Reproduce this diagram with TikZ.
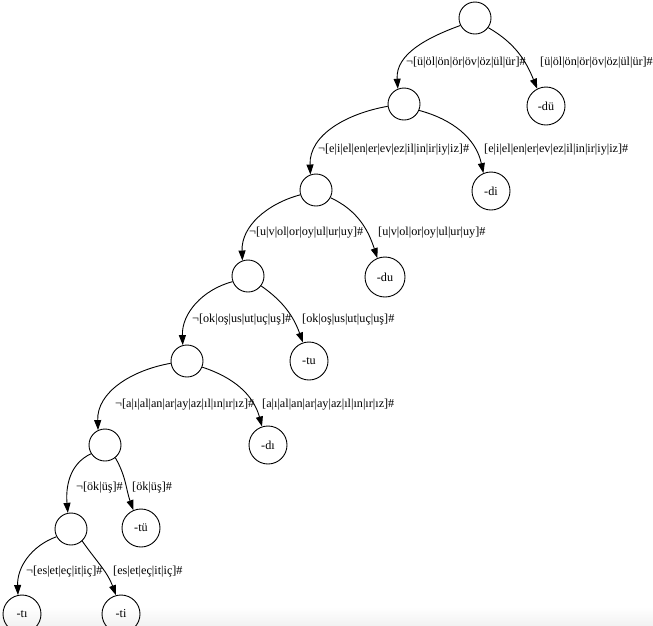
\documentclass[tikz,border=0pt]{standalone}
\usepackage{fontspec}
\setmainfont{Liberation Serif}
\usetikzlibrary{arrows.meta}
\begin{document}
\begin{tikzpicture}[x=1pt,y=-1pt,
  inner/.style={circle,draw,line width=0.9pt,minimum size=32pt,inner sep=0pt},
  leaf/.style={circle,draw,line width=0.9pt,minimum size=38pt,inner sep=0pt,font=\fontsize{12.2}{14}\selectfont},
  lab/.style={anchor=west,inner sep=0pt,font=\fontsize{12.2}{14}\selectfont},
  edge/.style={line width=0.9pt,-{Triangle[length=10pt,width=7pt]}}]
\useasboundingbox (0,0) rectangle (653,625);
\shade[top color=white,bottom color=black!5] (0,607) rectangle (653,625);
% internal nodes
\node[inner] (r)  at (475,18) {};
\node[inner] (n2) at (404,104) {};
\node[inner] (n3) at (316,190) {};
\node[inner] (n4) at (248,276) {};
\node[inner] (n5) at (187,361) {};
\node[inner] (n6) at (105,445) {};
\node[inner] (n7) at (71,529) {};
% leaves
\node[leaf] (du1) at (546,106) {-dü};
\node[leaf] (di)  at (491,191) {-di};
\node[leaf,minimum size=40pt] (du)  at (385,277) {-du};
\node[leaf] (tu)  at (309,361) {-tu};
\node[leaf] (dI)  at (268,445) {-dı};
\node[leaf] (tue) at (141,528) {-tü};
\node[leaf] (tI)  at (22,614) {-tı};
\node[leaf] (ti)  at (121,614) {-ti};
% edges
\draw[edge] (r.207)  to[out=200,in=94]  (n2.112);
\draw[edge] (r.-36)  to[out=-30,in=112] (du1.117);
\draw[edge] (n2.188) to[out=190,in=92]  (n3.110);
\draw[edge] (n2.-23) to[out=-15,in=102] (di.113);
\draw[edge] (n3.197) to[out=195,in=92]  (n4.110);
\draw[edge] (n3.-28) to[out=-25,in=108] (du.112);
\draw[edge] (n4.200) to[out=195,in=92]  (n5.105);
\draw[edge] (n4.-37) to[out=-35,in=110] (tu.108);
\draw[edge] (n5.188) to[out=190,in=92]  (n6.115);
\draw[edge] (n5.-22) to[out=-18,in=105] (dI.108);
\draw[edge] (n6.212) to[out=205,in=95]  (n7.101);
\draw[edge] (n6.-51) to[out=-60,in=110] (tue.113);
\draw[edge] (n7.208) to[out=200,in=92]  (tI.102);
\draw[edge] (n7.-47) to[out=-55,in=110] (ti.105);
% labels
\node[lab] (l1) at (406,63)  {¬[ü|öl|ön|ör|öv|öz|ül|ür]\#};
\node[lab] (q1) at (540,63)  {[ü|öl|ön|ör|öv|öz|ül|ür]\#};
\node[lab] (l2) at (318,150) {¬[e|i|el|en|er|ev|ez|il|in|ir|iy|iz]\#};
\node[lab] (q2) at (484,150) {[e|i|el|en|er|ev|ez|il|in|ir|iy|iz]\#};
\node[lab] (l3) at (249,233) {¬[u|v|ol|or|oy|ul|ur|uy]\#};
\node[lab] (q3) at (378,233) {[u|v|ol|or|oy|ul|ur|uy]\#};
\node[lab] (l4) at (192,320) {¬[ok|oş|us|ut|uç|uş]\#};
\node[lab] (q4) at (302,320) {[ok|oş|us|ut|uç|uş]\#};
\node[lab] (l5) at (115,405) {¬[a|ı|al|an|ar|ay|az|ıl|ın|ır|ız]\#};
\node[lab] (q5) at (262,405) {[a|ı|al|an|ar|ay|az|ıl|ın|ır|ız]\#};
\node[lab] (l6) at (76,488)  {¬[ök|üş]\#};
\node[lab] (q6) at (132,488) {[ök|üş]\#};
\node[lab] (l7) at (26,572)  {¬[es|et|eç|it|iç]\#};
\node[lab] (q7) at (113,572) {[es|et|eç|it|iç]\#};
\end{tikzpicture}
\end{document}
